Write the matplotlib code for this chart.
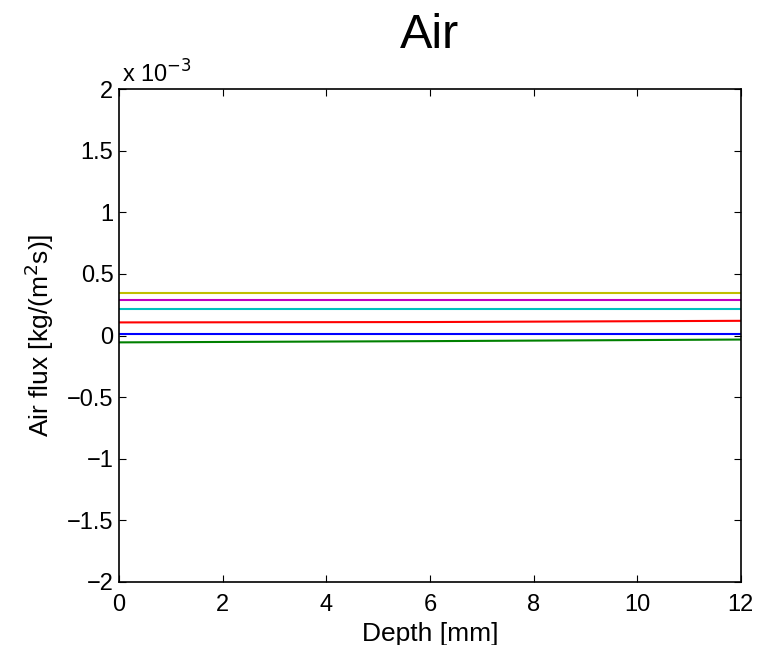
import matplotlib
matplotlib.use('Agg')
import matplotlib.pyplot as plt
from matplotlib.ticker import FuncFormatter, MultipleLocator

plt.rcParams['font.family'] = ['Liberation Sans', 'DejaVu Sans']

# depth [mm]
depth = [0, 6, 12]

# air flux [kg/(m^2 s)]
flux_blue = [0.012e-3, 0.012e-3, 0.012e-3]
flux_green = [-0.055e-3, -0.045e-3, -0.032e-3]
flux_red = [0.107e-3, 0.110e-3, 0.120e-3]
flux_cyan = [0.217e-3, 0.217e-3, 0.217e-3]
flux_magenta = [0.285e-3, 0.285e-3, 0.285e-3]
flux_yellow = [0.343e-3, 0.343e-3, 0.343e-3]

series = [flux_blue, flux_green, flux_red, flux_cyan, flux_magenta, flux_yellow]
colors = ['#0000ff', '#008000', '#ff0000', '#00bfbf', '#bf00bf', '#bfbf00']

fig = plt.figure(figsize=(7.63, 6.45), dpi=100)
ax = fig.add_axes([0.156, 0.0977, 0.815, 0.764])

for s, c in zip(series, colors):
    ax.plot(depth, s, c=c, lw=1.5)

ax.set_xlim(0, 12)
ax.set_ylim(-2e-3, 2e-3)
ax.xaxis.set_major_locator(MultipleLocator(2))
ax.yaxis.set_major_locator(MultipleLocator(0.5e-3))

def yfmt(v, pos):
    return ('%g' % round(v * 1e3, 3)).replace('-', '\u2212')

ax.yaxis.set_major_formatter(FuncFormatter(yfmt))
ax.tick_params(direction='in', top=True, right=True, labelsize=17, length=5, width=0.8)
ax.tick_params(axis='x', pad=9)
ax.tick_params(axis='y', pad=4)
for sp in ax.spines.values():
    sp.set_linewidth(1.2)

ax.text(0.004, 1.004, r'x 10$^{-3}$', transform=ax.transAxes, fontsize=17,
        ha='left', va='bottom')
ax.set_xlabel('Depth [mm]', fontsize=19, labelpad=4)
ax.set_ylabel(r'Air flux [kg/(m$^2$s)]', fontsize=19, labelpad=8)
ax.set_title('Air', fontsize=35, pad=30)

fig.savefig('out.png', dpi=100)
